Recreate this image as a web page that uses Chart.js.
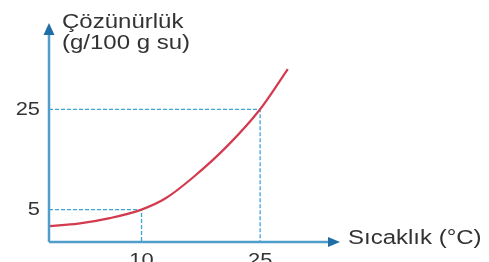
<!DOCTYPE html>
<html>
<head>
<meta charset="utf-8">
<script src="https://cdn.jsdelivr.net/npm/chart.js@4"></script>
<style>
  body { margin: 0; background: #fff; }
</style>
</head>
<body>
<canvas id="chart" width="489" height="262"></canvas>
<script>
// temperature (°C) and solubility (g/100 g su)
const temps = [-1.7, 2, 6, 10, 13, 16.5, 20.8, 25, 28.5]
const solubility = [1.7, 2.2, 3.3, 5, 7.2, 11.4, 17.6, 25, 33]
const xTicks = [10, 25]
const yTicks = [5, 25]

const xMin = -1.7, xMax = 35.1
const yMin = -1.46, yMax = 42.2

const axisColor = '#4f9dc9'
const arrowColor = '#1f6ea8'
const textColor = '#333'

// dashed helper lines from the axes to the marked points
const guides = xTicks.map((t, i) => ({
    data: [{x: xMin, y: yTicks[i]}, {x: t, y: yTicks[i]}, {x: t, y: yMin}],
    borderColor: '#3aa6d8',
    borderWidth: 1.3,
    borderDash: [4, 2],
    pointRadius: 0,
    tension: 0,
    order: 1
}))

function drawText(ctx, str, x, y, align, baseline, size, sx) {
    ctx.save()
    ctx.translate(x, y)
    ctx.scale(sx, 1)
    ctx.font = size + 'px "Liberation Sans", Arial, sans-serif'
    ctx.fillStyle = textColor
    ctx.textAlign = align
    ctx.textBaseline = baseline
    ctx.fillText(str, 0, 0)
    ctx.restore()
}

const axesPlugin = {
    id: 'axes',
    afterDraw(chart) {
        const ctx = chart.ctx
        const a = chart.chartArea
        const xs = chart.scales.x, ys = chart.scales.y
        const ox = a.left, oy = a.bottom

        ctx.save()
        ctx.strokeStyle = axisColor
        ctx.lineWidth = 2.5
        ctx.beginPath()
        ctx.moveTo(ox, oy)
        ctx.lineTo(ox, a.top + 8)
        ctx.moveTo(ox, oy)
        ctx.lineTo(a.right - 8, oy)
        ctx.stroke()

        ctx.fillStyle = arrowColor
        ctx.beginPath()
        ctx.moveTo(ox, a.top)
        ctx.lineTo(ox - 5.5, a.top + 12)
        ctx.lineTo(ox + 5.5, a.top + 12)
        ctx.closePath()
        ctx.fill()
        ctx.beginPath()
        ctx.moveTo(a.right, oy)
        ctx.lineTo(a.right - 12, oy - 5)
        ctx.lineTo(a.right - 12, oy + 5)
        ctx.closePath()
        ctx.fill()
        ctx.restore()

        yTicks.forEach(v => drawText(ctx, String(v), ox - 9, ys.getPixelForValue(v), 'right', 'middle', 19, 1.15))
        xTicks.forEach(v => drawText(ctx, String(v), xs.getPixelForValue(v), oy + 9, 'center', 'top', 19, 1.15))

        drawText(ctx, 'Çözünürlük', ox + 13, 28, 'left', 'alphabetic', 20, 1.2)
        drawText(ctx, '(g/100 g su)', ox + 13, 49, 'left', 'alphabetic', 20, 1.2)
        drawText(ctx, 'Sıcaklık (°C)', a.right + 8, oy + 2, 'left', 'alphabetic', 20, 1.2)
    }
}

const ctx = document.getElementById('chart').getContext('2d')
new Chart(ctx, {
    type: 'line',
    data: {
        datasets: [{
            data: temps.map((t, i) => ({x: t, y: solubility[i]})),
            borderColor: '#d43a4e',
            borderWidth: 2.2,
            pointRadius: 0,
            cubicInterpolationMode: 'monotone',
            order: 0
        }, ...guides]
    },
    options: {
        responsive: false,
        animation: false,
        layout: {padding: {left: 49, top: 23, right: 149, bottom: 20}},
        scales: {
            x: {type: 'linear', min: xMin, max: xMax, display: false},
            y: {type: 'linear', min: yMin, max: yMax, display: false}
        },
        plugins: {legend: {display: false}, tooltip: {enabled: false}}
    },
    plugins: [axesPlugin]
})
</script>
</body>
</html>
